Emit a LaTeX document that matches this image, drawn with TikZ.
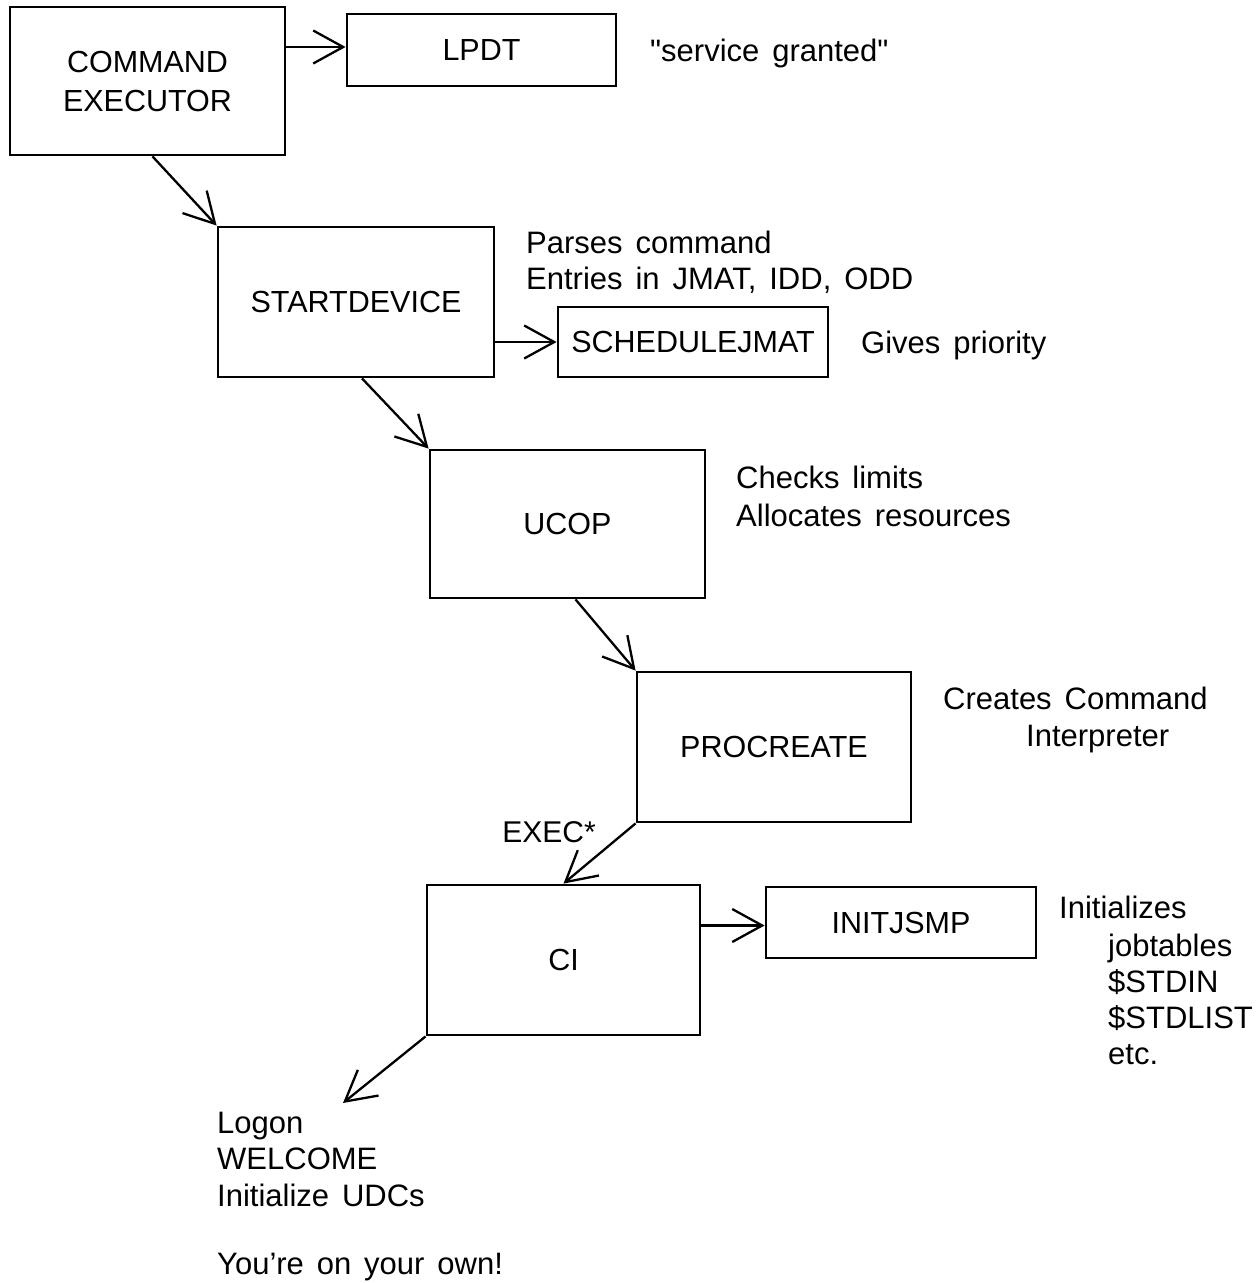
\documentclass[tikz,border=0pt]{standalone}
\usepackage{fontspec}
\setmainfont{Liberation Sans}[Ligatures=TeXOff,WordSpace=1.5]
\usetikzlibrary{arrows.meta,calc}
\begin{document}
\begin{tikzpicture}[x=1pt,y=-1pt,
  box/.style={draw,line width=2.8pt,inner sep=0pt,align=center,
    font=\fontsize{30.5}{39}\selectfont},
  arr/.style={line width=2.3pt,
    -{Straight Barb[length=30pt,width=33pt,line width=2.3pt]}},
  note/.style={inner sep=0pt,align=left,font=\fontsize{31}{36.5}\selectfont},
  lbl/.style={inner sep=0pt,font=\fontsize{30}{36}\selectfont}]
\fill[white] (0,0) rectangle (1256,1283);
\useasboundingbox (0,0) rectangle (1256,1283);

% boxes
\node[box,minimum width=275pt,minimum height=148pt] (ce)   at (147.5,81)  {COMMAND\\EXECUTOR};
\node[box,minimum width=269pt,minimum height=72pt]  (lpdt) at (481.5,50)  {LPDT};
\node[box,minimum width=276pt,minimum height=150pt] (sd)   at (356,302)   {STARTDEVICE};
\node[box,minimum width=270pt,minimum height=70pt]  (sj)   at (693,342)   {SCHEDULEJMAT};
\node[box,minimum width=275pt,minimum height=148pt] (ucop) at (567.5,524) {UCOP};
\node[box,minimum width=274pt,minimum height=150pt] (pc)   at (774,747)   {PROCREATE};
\node[box,minimum width=273pt,minimum height=150pt] (ci)   at (563.5,960) {CI};
\node[box,minimum width=270pt,minimum height=71pt]  (ij)   at (901,922.5) {INITJSMP};

% connectors
\coordinate (a1) at ($(lpdt.west)+(0,-3)$);
\draw[arr] (a1 -| ce.east) -- (a1);
\draw[arr] ($(ce.south)+(5,0)$) -- (sd.north west);
\draw[arr] (sj.west -| sd.east) -- (sj.west);
\draw[arr] ($(sd.south)+(6,0)$) -- (ucop.north west);
\draw[arr] ($(ucop.south)+(8,0)$) -- (pc.north west);
\draw[arr] (pc.south west) -- (ci.north);
\node[lbl] (exec) at (549,832) {EXEC*};
\coordinate (a2) at ($(ij.west)+(0,3)$);
\draw[arr] (a2 -| ci.east) -- (a2);
\coordinate (lg) at (343,1103);
\draw[arr] (ci.south west) -- (lg);

% annotations
\node[note,anchor=base west] (t1) at (650,61) {"service granted"};
\node[note,anchor=north west] (t2) at (526,230.5) {Parses command\\Entries in JMAT, IDD, ODD};
\node[note,anchor=base west] (t3) at (861,353) {Gives priority};
\node[note,anchor=north west,font=\fontsize{31}{38}\selectfont] (t4) at (736,465.5) {Checks limits\\Allocates resources};
\node[note,anchor=north west,font=\fontsize{31}{37}\selectfont] (t5) at (943,686.5) {Creates Command\\\hspace*{83pt}Interpreter};
\node[note,anchor=base west] (t6) at (1059,918) {Initializes};
\node[note,anchor=north west,font=\fontsize{31}{36}\selectfont] (t7) at (1108,933.5) {jobtables\\\$STDIN\\\$STDLIST\\etc.};
\node[note,anchor=north west] (t8) at (217,1111.5) {Logon\\WELCOME\\Initialize UDCs\\[32pt]You’re on your own!};
\end{tikzpicture}
\end{document}
